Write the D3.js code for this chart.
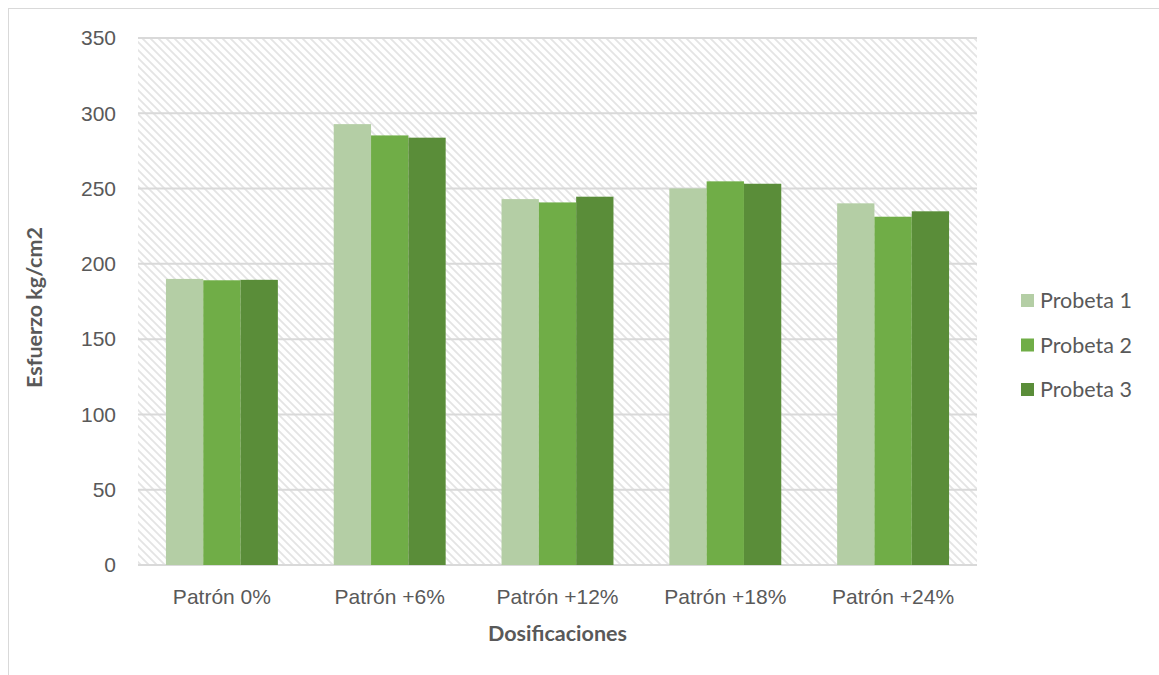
<!DOCTYPE html>
<html>
<head>
<meta charset="utf-8">
<script src="https://cdn.jsdelivr.net/npm/d3@7"></script>
<style>
  html, body { margin: 0; padding: 0; background: #fff; }
  svg { display: block; font-family: Lato, "Open Sans", sans-serif; }
</style>
</head>
<body>
<svg id="chart" width="1159" height="675"></svg>
<script>
// Compressive strength per mix dosage, three specimens each
const categories = ["Patrón 0%", "Patrón +6%", "Patrón +12%", "Patrón +18%", "Patrón +24%"];
const seriesNames = ["Probeta 1", "Probeta 2", "Probeta 3"];
const probeta1 = [190.0, 292.8, 243.0, 250.1, 240.2];
const probeta2 = [189.1, 285.3, 240.8, 254.8, 231.3];
const probeta3 = [189.4, 283.8, 244.6, 253.2, 234.9];
const yTicks = [0, 50, 100, 150, 200, 250, 300, 350];
const colors = ["#b4cea5", "#70ad47", "#5a8d39"];

const seriesValues = [probeta1, probeta2, probeta3];

const svg = d3.select("#chart");
const margin = { left: 138, top: 38, right: 977, bottom: 565 };

// Outer chart frame
svg.append("rect")
  .attr("x", 8.5).attr("y", 8.5)
  .attr("width", 1170).attr("height", 690)
  .attr("fill", "#fff").attr("stroke", "#d9d9d9").attr("stroke-width", 1);

// Diagonal hatch for the plot background
const defs = svg.append("defs");
const pat = defs.append("pattern")
  .attr("id", "hatch")
  .attr("patternUnits", "userSpaceOnUse")
  .attr("width", 8).attr("height", 8);
pat.append("rect").attr("width", 8).attr("height", 8).attr("fill", "#fff");
pat.append("path")
  .attr("d", "M-2,-2 L10,10 M-2,6 L2,10 M6,-2 L10,2")
  .attr("stroke", "#e4e4e4").attr("stroke-width", 1.8);

const x0 = d3.scaleBand()
  .domain(categories)
  .range([margin.left, margin.right])
  .paddingInner(0.333)
  .paddingOuter(0.1665);

const x1 = d3.scaleBand()
  .domain(seriesNames)
  .range([0, x0.bandwidth()]);

const y = d3.scaleLinear()
  .domain([0, 350])
  .range([margin.bottom, margin.top]);

svg.append("rect")
  .attr("x", margin.left).attr("y", margin.top)
  .attr("width", margin.right - margin.left)
  .attr("height", margin.bottom - margin.top)
  .attr("fill", "url(#hatch)");

// Horizontal gridlines
svg.append("g")
  .selectAll("line")
  .data(yTicks)
  .join("line")
  .attr("x1", margin.left).attr("x2", margin.right)
  .attr("y1", d => y(d)).attr("y2", d => y(d))
  .attr("stroke", "#d9d9d9").attr("stroke-width", 2);

// Bars
const groups = svg.append("g")
  .selectAll("g")
  .data(categories)
  .join("g")
  .attr("transform", d => `translate(${x0(d)},0)`);

groups.selectAll("rect")
  .data((c, i) => seriesNames.map((s, j) => ({ s, j, v: seriesValues[j][i] })))
  .join("rect")
  .attr("x", d => x1(d.s))
  .attr("width", x1.bandwidth())
  .attr("y", d => y(d.v))
  .attr("height", d => y(0) - y(d.v))
  .attr("fill", d => colors[d.j]);

// Y axis labels
const yAxis = d3.axisLeft(y).tickValues(yTicks).tickSize(0).tickPadding(22);
const gy = svg.append("g")
  .attr("transform", `translate(${margin.left},0)`)
  .call(yAxis);
gy.select(".domain").remove();
gy.selectAll("text")
  .attr("fill", "#595959").attr("font-size", 21);

// X axis labels
const xAxis = d3.axisBottom(x0).tickSize(0).tickPadding(24);
const gx = svg.append("g")
  .attr("transform", `translate(0,${margin.bottom})`)
  .call(xAxis);
gx.select(".domain").remove();
gx.selectAll("text")
  .attr("fill", "#595959").attr("font-size", 21);

// Axis titles
svg.append("text")
  .attr("x", (margin.left + margin.right) / 2)
  .attr("y", 641)
  .attr("text-anchor", "middle")
  .attr("font-size", 21.5).attr("font-weight", "bold")
  .attr("fill", "#595959")
  .text("Dosificaciones");

svg.append("text")
  .attr("transform", `translate(42,${(margin.top + margin.bottom) / 2 + 6}) rotate(-90)`)
  .attr("text-anchor", "middle")
  .attr("font-size", 21.5).attr("font-weight", "bold")
  .attr("fill", "#595959")
  .text("Esfuerzo kg/cm2");

// Legend
const legend = svg.append("g")
  .selectAll("g")
  .data(seriesNames)
  .join("g")
  .attr("transform", (d, i) => `translate(1021,${300 + i * 44.5})`);
legend.append("rect")
  .attr("x", 0).attr("y", -6)
  .attr("width", 13).attr("height", 13)
  .attr("fill", (d, i) => colors[i]);
legend.append("text")
  .attr("x", 19).attr("y", 8)
  .attr("font-size", 21.5).attr("fill", "#595959")
  .text(d => d);
</script>
</body>
</html>
